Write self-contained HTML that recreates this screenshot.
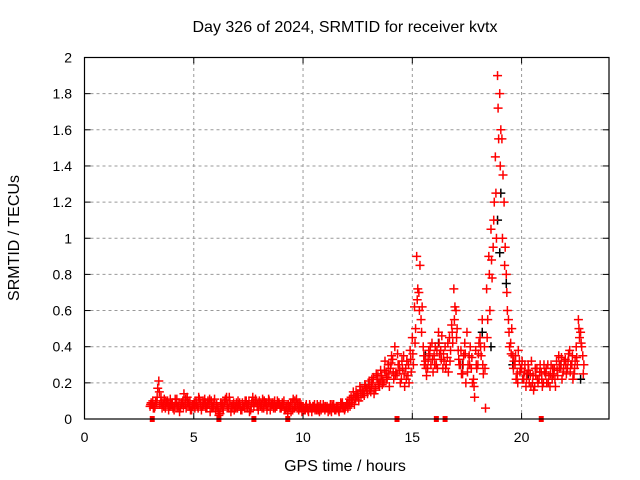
<!DOCTYPE html>
<html><head><meta charset="utf-8"><style>
html,body{margin:0;padding:0;background:#fff;}
svg{display:block;font-family:"Liberation Sans",sans-serif;}
</style></head><body>
<svg id="chart" width="640" height="480" viewBox="0 0 640 480" xmlns="http://www.w3.org/2000/svg">
<rect width="640" height="480" fill="#fff"/>
<text x="345" y="32" text-anchor="middle" font-size="16">Day 326 of 2024, SRMTID for receiver kvtx</text>
<text x="345" y="471" text-anchor="middle" font-size="16">GPS time / hours</text>
<text transform="translate(19,238) rotate(-90)" text-anchor="middle" font-size="16">SRMTID / TECUs</text>
<g id="grid"></g>
<g id="ticks"></g>
<g id="marks"></g>
<rect x="84.5" y="57.5" width="524.5" height="361.5" fill="none" stroke="#000" stroke-width="1.2"/>
</svg>
<script>
const xTicks=[0,5,10,15,20];
const yTicks=[0,0.2,0.4,0.6,0.8,1,1.2,1.4,1.6,1.8,2];
const yTickLabels=["0","0.2","0.4","0.6","0.8","1","1.2","1.4","1.6","1.8","2"];
const times=[3.0,3.1,3.2,3.3,3.4,3.5,3.6,3.7,3.8,3.9,4.0,4.1,4.2,4.3,4.4,4.5,4.6,4.7,4.8,4.9,5.0,5.1,5.2,5.3,5.4,5.5,5.6,5.7,5.8,5.9,6.0,6.1,6.2,6.3,6.4,6.5,6.6,6.7,6.8,6.9,7.0,7.1,7.2,7.3,7.4,7.5,7.6,7.7,7.8,7.9,8.0,8.1,8.2,8.3,8.4,8.5,8.6,8.7,8.8,8.9,9.0,9.1,9.2,9.3,9.4,9.5,9.6,9.7,9.8,9.9,10.0,10.1,10.2,10.3,10.4,10.5,10.6,10.7,10.8,10.9,11.0,11.1,11.2,11.3,11.4,11.5,11.6,11.7,11.8,11.9,12.0,
12.1,12.2,12.3,12.4,12.5,12.6,12.7,12.8,12.9,13.0,13.1,13.2,13.3,13.4,13.5,13.6,13.7,13.8,13.9,14.0,14.1,14.2,14.3,14.4,14.5,14.6,14.7,14.8,14.9,15.0,15.1,15.2,15.3,15.4,15.5,15.6,15.7,15.8,15.9,16.0,16.1,16.2,16.3,16.4,16.5,16.6,16.7,16.8,16.9,17.0,17.1,17.2,17.3,17.4,17.5,17.6,17.7,17.8,17.9,18.0,18.1,18.2,18.3,18.4,18.5,18.6,18.7,18.8,18.9,19.0,19.1,19.2,19.3,19.4,19.5,19.6,19.7,19.8,19.9,20.0,20.1,20.2,20.3,20.4,20.5,20.6,20.7,20.8,20.9,21.0,21.1,21.2,21.3,21.4,21.5,21.6,21.7,21.8,21.9,22.0,22.1,22.2,22.3,22.4,22.5,22.6,22.7,22.8];
const redA=[.07,.08,.06,.09,.21,.12,.08,.06,.10,.07,
.08,.05,.09,.07,.06,.10,.08,.12,.07,.05,
.08,.10,.06,.09,.07,.11,.06,.08,.10,.07,
.05,.06,.03,.08,.09,.12,.06,.04,.08,.07,
.06,.09,.05,.07,.10,.08,.05,.12,.09,.07,
.10,.08,.06,.09,.07,.05,.08,.10,.07,.09,
.06,.08,.05,.03,.07,.09,.06,.11,.05,.08,
.07,.05,.06,.08,.04,.07,.06,.05,.08,.06,
.05,.07,.06,.04,.08,.05,.07,.06,.09,.05,
.08,
.09,.12,.15,.11,.14,.18,.16,.13,.17,
.19,.15,.20,.17,.22,.18,.24,.20,.26,.30,
.28,.33,.40,.25,.30,.22,.35,.28,.24,.38,
.45,.62,.90,.70,.55,.40,.32,.28,.36,.42,
.35,.30,.48,.38,.28,.40,.34,.45,.52,.72,
.60,.38,.30,.25,.42,.48,.35,.28,.22,.38,
.30,.45,.55,.40,.72,.90,1.05,.95,1.45,1.90,
1.80,1.55,1.20,.80,.55,.42,.35,.30,.25,.32,
.28,.22,.18,.30,.25,.20,.18,.28,.22,.26,
.20,.25,.30,.18,.22,.28,.32,.35,.30,.26,
.33,.28,.38,.30,.25,.40,.55,.48,.35];
const redB=[.09,.06,.10,.17,.08,.06,.11,.09,.05,.08,
.06,.11,.07,.04,.09,.14,.06,.09,.05,.08,
.06,.07,.11,.05,.08,.06,.10,.04,.07,.11,
.08,.02,.07,.05,.11,.07,.10,.06,.05,.09,
.08,.05,.07,.10,.06,.04,.09,.07,.10,.05,
.07,.11,.09,.05,.10,.08,.06,.07,.09,.06,
.09,.05,.07,.06,.04,.11,.07,.08,.06,.04,
.05,.08,.04,.06,.07,.05,.08,.04,.06,.07,
.06,.04,.08,.07,.05,.06,.04,.08,.06,.07,
.06,
.07,.10,.08,.13,.10,.12,.15,.18,.14,
.16,.22,.14,.25,.19,.27,.21,.32,.23,.18,
.35,.22,.26,.30,.20,.28,.18,.32,.20,.26,
.30,.50,.72,.85,.62,.30,.24,.38,.30,.26,
.40,.28,.36,.46,.32,.30,.26,.38,.42,.62,
.50,.30,.25,.35,.20,.30,.40,.20,.12,.28,
.42,.35,.25,.06,.55,.60,.78,1.20,1.00,1.55,
1.60,1.35,.95,.60,.40,.50,.32,.22,.38,.28,
.22,.30,.25,.20,.32,.16,.24,.20,.30,.18,
.26,.20,.24,.30,.25,.18,.24,.28,.22,.32,
.25,.36,.30,.22,.32,.30,.45,.40,.30];
const redC=[.08,.10,.07,.12,.15,.09,.07,.10,.08,.11,
.09,.07,.11,.09,.08,.07,.11,.09,.10,.07,
.09,.08,.12,.07,.10,.09,.08,.11,.06,.09,
.07,.04,.09,.06,.10,.08,.12,.07,.09,.06,
.10,.07,.09,.06,.08,.10,.07,.09,.11,.08,
.09,.06,.10,.08,.11,.07,.09,.06,.10,.08,
.07,.10,.06,.08,.09,.05,.10,.06,.09,.07,
.06,.07,.05,.07,.06,.08,.05,.07,.05,.08,
.07,.06,.05,.08,.06,.07,.05,.09,.07,.06,
.09,
.11,.09,.13,.15,.12,.16,.14,.19,.16,
.21,.18,.23,.16,.24,.21,.19,.27,.22,.25,
.31,.26,.24,.36,.27,.32,.25,.22,.30,.33,
.36,.42,.66,.60,.48,.35,.28,.33,.40,.33,
.30,.38,.42,.33,.36,.28,.42,.32,.48,.55,
.45,.33,.38,.30,.36,.26,.30,.34,.18,.30,
.36,.40,.30,.28,.45,.80,.88,1.10,1.25,1.72,
1.40,1.00,.85,.70,.48,.36,.28,.35,.20,.26,
.32,.26,.22,.27,.18,.24,.28,.22,.26,.22,
.30,.28,.20,.25,.28,.22,.27,.30,.34,.28,
.30,.32,.26,.35,.28,.34,.50,.42,.25];
const blackTimes=[15.6,16.2,17.3,18.2,18.6,18.9,19.0,19.05,19.3,19.6,20.3,21.8,22.7];
const blackValues=[0.35,0.42,0.30,0.48,0.40,1.10,0.92,1.25,0.75,0.30,0.25,0.30,0.22];
const zeroTimes=[3.1,6.15,7.75,9.3,14.3,16.1,16.5,20.9];

const X0=84.5,X1=609,Y0=419,Y1=57.5,XMAX=24,YMAX=2;
const xs=t=>X0+(X1-X0)*t/XMAX;
const ys=v=>Y0-(Y0-Y1)*v/YMAX;
const NS="http://www.w3.org/2000/svg";
function mk(tag,attrs,parent){const e=document.createElementNS(NS,tag);for(const k in attrs)e.setAttribute(k,attrs[k]);parent.appendChild(e);return e;}
const grid=document.getElementById('grid'),ticks=document.getElementById('ticks'),marks=document.getElementById('marks');
xTicks.forEach(t=>{
  const x=xs(t);
  if(t>0){const g=mk('line',{x1:x,x2:x,y1:Y0,y2:Y1,stroke:'#999','stroke-dasharray':'3,3'},grid);
  
  }
  mk('line',{x1:x,x2:x,y1:Y0,y2:Y0-6,stroke:'#000'},ticks);
  mk('line',{x1:x,x2:x,y1:Y1,y2:Y1+6,stroke:'#000'},ticks);
  const l=mk('text',{x:x,y:442,'text-anchor':'middle','font-size':'14'},ticks);
  l.textContent=t;
  
  
});
yTicks.forEach((v,i)=>{
  const y=ys(v);
  if(v>0&&v<2){const g=mk('line',{x1:X0,x2:X1,y1:y,y2:y,stroke:'#999','stroke-dasharray':'3,3'},grid);
  
  }
  mk('line',{x1:X0,x2:X0+6,y1:y,y2:y,stroke:'#000'},ticks);
  mk('line',{x1:X1,x2:X1-6,y1:y,y2:y,stroke:'#000'},ticks);
  const l=mk('text',{x:72,y:y+5,'text-anchor':'end','font-size':'14'},ticks);
  l.textContent=yTickLabels[i];
  
  
});
function plus(t,v,color){
  const x=xs(t),y=ys(v);
  const p=mk('path',{d:`M${x-4.5},${y}H${x+4.5}M${x},${y-4.5}V${y+4.5}`,stroke:color,'stroke-width':'1.5',fill:'none'},marks);
  
  
}
blackTimes.forEach((t,i)=>plus(t,blackValues[i],'#000'));
times.forEach((t,i)=>{plus(t,redA[i],'#f00');plus(t+0.05,redB[i],'#f00');plus(t+0.025,redC[i],'#f00');});
zeroTimes.forEach(t=>{
  const r=mk('rect',{x:xs(t)-2.5,y:Y0-3,width:5,height:6,fill:'#f00'},marks);
  
  
});
</script>
</body></html>
